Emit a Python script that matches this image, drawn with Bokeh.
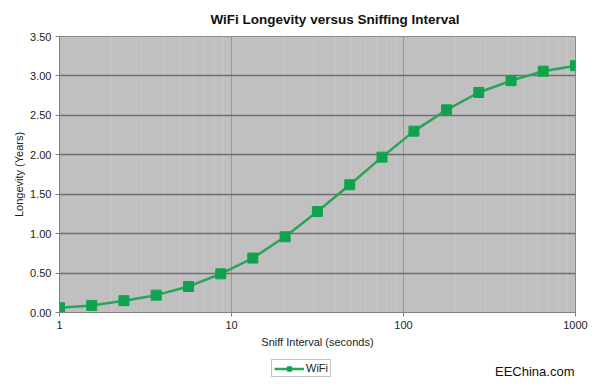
from bokeh.plotting import figure
from bokeh.layouts import column
from bokeh.models import (Range1d, FixedTicker, PrintfTickFormatter, Legend, LegendItem,
                          Label, ColumnDataSource)
from bokeh.embed import file_html
from bokeh.resources import INLINE

# ---- data ----
sniff_interval = [1, 1.54, 2.37, 3.65, 5.62, 8.66, 13.3, 20.5, 31.6, 48.7, 75.0,
                  115, 178, 274, 422, 649, 1000]
longevity = [0.06, 0.09, 0.15, 0.22, 0.33, 0.49, 0.69, 0.96, 1.28, 1.62, 1.97,
             2.30, 2.57, 2.79, 2.94, 3.06, 3.13]
x_ticks = [1, 10, 100, 1000]
x_tick_labels = ["1", "10", "100", "1000"]
x_minor = [m * d for d in (1, 10, 100) for m in range(2, 10)]
y_ticks = [0.0, 0.5, 1.0, 1.5, 2.0, 2.5, 3.0, 3.5]
series_name = "WiFi"
title_text = "WiFi Longevity versus Sniffing Interval"
x_label = "Sniff Interval (seconds)"
y_label = "Longevity (Years)"
watermark = "EEChina.com"

FONT = "Liberation Sans"
W = 592
H_MAIN = 352
H_FOOT = 26

p = figure(width=W, height=H_MAIN, x_axis_type="log", output_backend="svg",
           toolbar_location=None, x_range=Range1d(1, 1000), y_range=Range1d(0, 3.5),
           min_border_left=59, min_border_right=17, min_border_top=36, min_border_bottom=40,
           title=title_text)
p.title.align = "left"
p.title.offset = 151
p.title.text_font = FONT
p.title.text_font_size = "13.5px"
p.title.text_font_style = "bold"
p.title.text_color = "#111111"
p.title.standoff = 19
p.background_fill_color = "#c0c0c0"
p.border_fill_color = "white"
p.outline_line_color = "#8a8a8a"
p.outline_line_width = 1

# grid
p.xgrid.ticker = FixedTicker(ticks=x_ticks, minor_ticks=x_minor)
p.xgrid.grid_line_color = "#9a9a9a"
p.xgrid.grid_line_width = 1
p.xgrid.minor_grid_line_color = "#c7c7c7"
p.xgrid.minor_grid_line_width = 1
p.ygrid.ticker = FixedTicker(ticks=y_ticks)
p.ygrid.grid_line_color = "#6e6e6e"
p.ygrid.grid_line_width = 1.5

# axes
p.xaxis.ticker = FixedTicker(ticks=x_ticks)
p.xaxis.major_label_overrides = {t: l for t, l in zip(x_ticks, x_tick_labels)}
p.yaxis.ticker = FixedTicker(ticks=y_ticks)
p.yaxis.formatter = PrintfTickFormatter(format="%.2f")
for ax in (p.xaxis[0], p.yaxis[0]):
    ax.axis_line_color = "#808080"
    ax.major_tick_line_color = "#808080"
    ax.major_tick_out = 4
    ax.major_tick_in = 0
    ax.minor_tick_line_color = None
    ax.major_label_text_font = FONT
    ax.major_label_text_font_size = "11px"
    ax.major_label_text_color = "#222222"
    ax.axis_label_text_font = FONT
    ax.axis_label_text_font_size = "11px"
    ax.axis_label_text_font_style = "normal"
    ax.axis_label_text_color = "#222222"
p.xaxis.axis_label = x_label
p.yaxis.axis_label = y_label
p.xaxis.major_label_standoff = 4
p.xaxis.axis_label_standoff = 4
p.yaxis.major_label_standoff = 4
p.yaxis.axis_label_standoff = 2

LINE_COLOR = "#2aa45a"
MARK_COLOR = "#10a34e"
src = ColumnDataSource(data=dict(x=sniff_interval, y=longevity))
p.line("x", "y", source=src, line_color=LINE_COLOR, line_width=2.5)
p.scatter("x", "y", source=src, marker="square", size=10,
          fill_color=MARK_COLOR, line_color=MARK_COLOR)

# ---- footer strip: legend + watermark (frame aligned with the main plot's frame) ----
f = figure(width=W, height=H_FOOT, output_backend="svg", toolbar_location=None,
           x_range=Range1d(2000, 3000), y_range=Range1d(10, 20),
           min_border_left=59, min_border_right=17, min_border_top=0, min_border_bottom=0,
           x_axis_location=None, y_axis_location=None)
f.grid.visible = False
f.outline_line_color = None
f.background_fill_color = "white"
f.border_fill_color = "white"
# same series drawn outside the footer's visible range: only used for the legend key
fl = f.line("x", "y", source=src, line_color=LINE_COLOR, line_width=2.5)
fs = f.scatter("x", "y", source=src, marker="square", size=7,
               fill_color=MARK_COLOR, line_color=MARK_COLOR)

legend = Legend(items=[LegendItem(label=series_name, renderers=[fl, fs])],
                location=(212, 1), orientation="horizontal")
legend.label_text_font = FONT
legend.label_text_font_size = "11px"
legend.label_text_color = "#222222"
legend.glyph_width = 30
legend.glyph_height = 11
legend.label_standoff = 2
legend.padding = 2
legend.margin = 0
legend.spacing = 0
legend.label_height = 11
legend.border_line_color = "#8a8a8a"
legend.border_line_width = 1
legend.background_fill_color = "white"
legend.background_fill_alpha = 1
f.add_layout(legend, "center")

wm = Label(x=515, y=7, x_units="screen", y_units="screen", text=watermark,
           text_font=FONT, text_font_size="13px", text_align="right",
           text_baseline="middle", text_color="#111111")
f.add_layout(wm)

page = column(p, f, spacing=0)
open("out.html", "w").write(file_html(page, INLINE))
